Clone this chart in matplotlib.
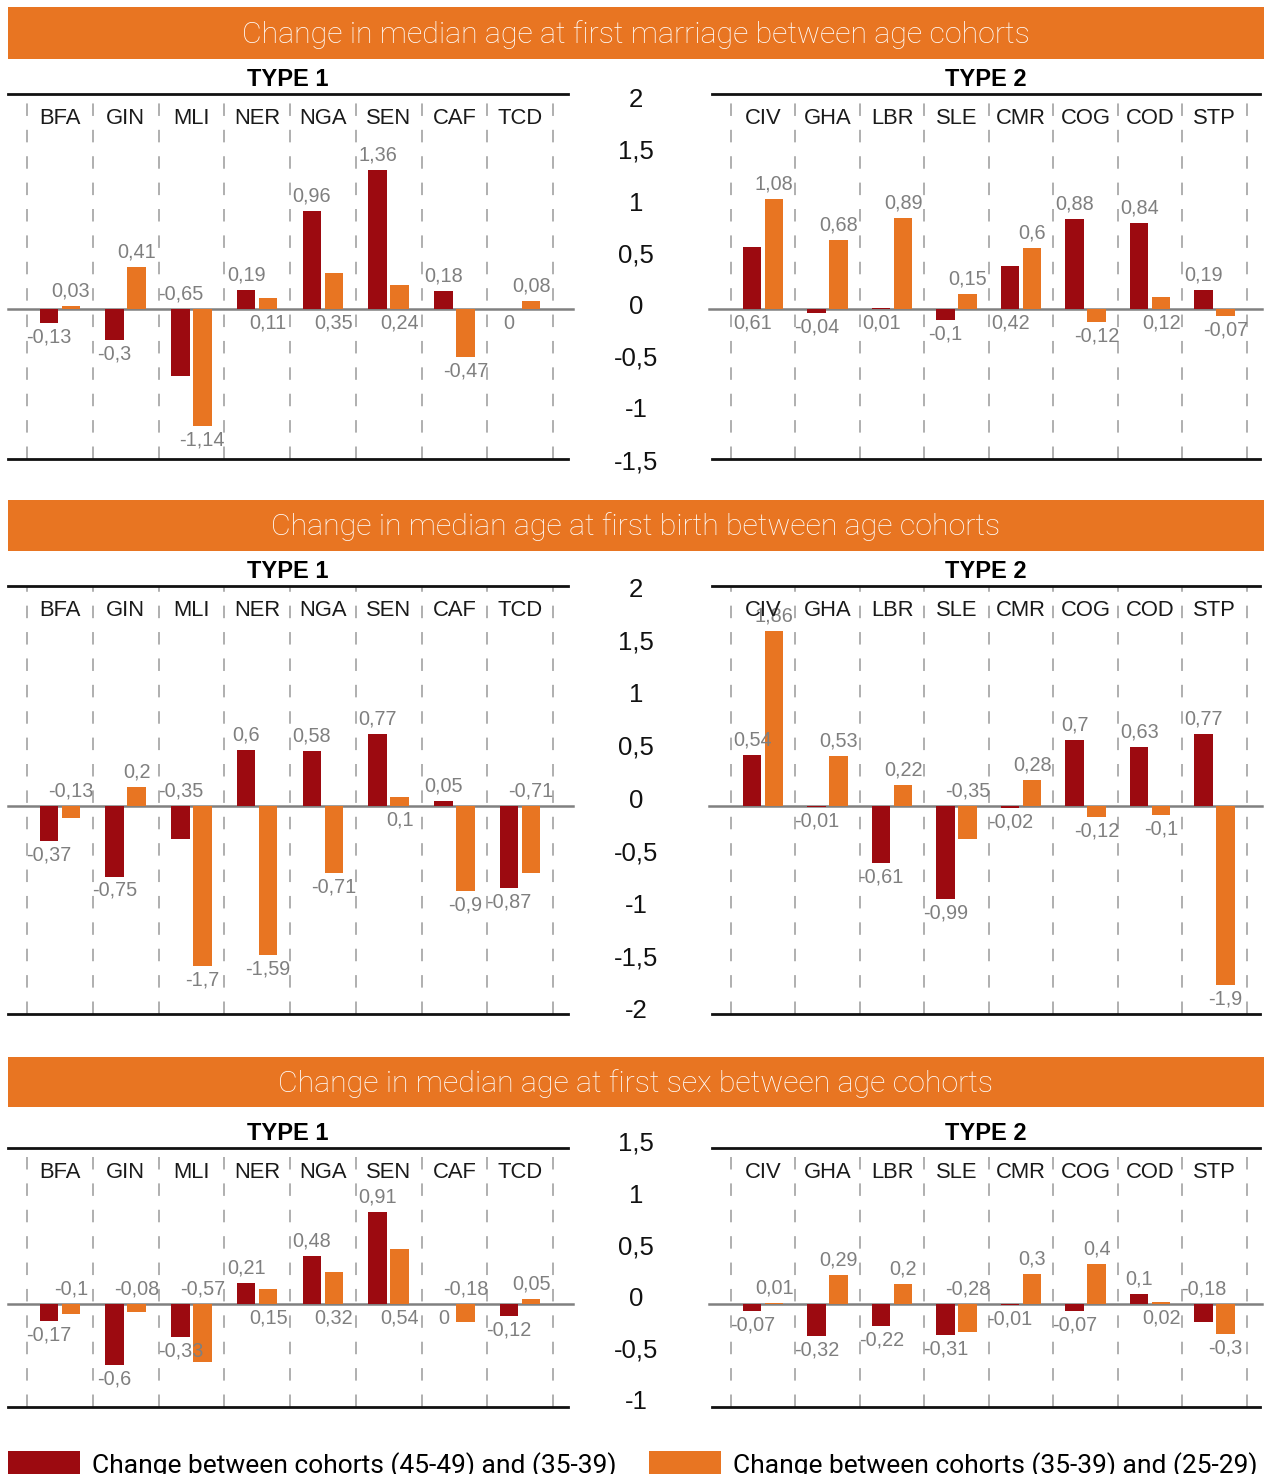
import matplotlib
matplotlib.use("Agg")
import matplotlib.pyplot as plt
from matplotlib.patches import Rectangle
from matplotlib.transforms import blended_transform_factory

plt.rcParams["font.family"] = ["Liberation Sans", "DejaVu Sans"]
plt.rcParams["lines.scale_dashes"] = False

# ---------------- data ----------------
type1_countries = ["BFA", "GIN", "MLI", "NER", "NGA", "SEN", "CAF", "TCD"]
type2_countries = ["CIV", "GHA", "LBR", "SLE", "CMR", "COG", "COD", "STP"]

section_titles = [
    "Change in median age at first marriage between age cohorts",
    "Change in median age at first birth between age cohorts",
    "Change in median age at first sex between age cohorts",
]
legend_labels = [
    "Change between cohorts (45-49) and (35-39)",
    "Change between cohorts (35-39) and (25-29)",
]

# marriage
marriage_t1_old = [-0.13, -0.3, -0.65, 0.19, 0.96, 1.36, 0.18, 0]
marriage_t1_young = [0.03, 0.41, -1.14, 0.11, 0.35, 0.24, -0.47, 0.08]
marriage_t2_old = [0.61, -0.04, 0.01, -0.1, 0.42, 0.88, 0.84, 0.19]
marriage_t2_young = [1.08, 0.68, 0.89, 0.15, 0.6, -0.12, 0.12, -0.07]
# birth
birth_t1_old = [-0.37, -0.75, -0.35, 0.6, 0.58, 0.77, 0.05, -0.87]
birth_t1_young = [-0.13, 0.2, -1.7, -1.59, -0.71, 0.1, -0.9, -0.71]
birth_t2_old = [0.54, -0.01, -0.61, -0.99, -0.02, 0.7, 0.63, 0.77]
birth_t2_young = [1.86, 0.53, 0.22, -0.35, 0.28, -0.12, -0.1, -1.9]
# sex
sex_t1_old = [-0.17, -0.6, -0.33, 0.21, 0.48, 0.91, 0, -0.12]
sex_t1_young = [-0.1, -0.08, -0.57, 0.15, 0.32, 0.54, -0.18, 0.05]
sex_t2_old = [-0.07, -0.32, -0.22, -0.31, -0.01, -0.07, 0.1, -0.18]
sex_t2_young = [0.01, 0.29, 0.2, -0.28, 0.3, 0.4, 0.02, -0.3]

# axis tick values of the middle scale column
marriage_ticks = [2, 1.5, 1, 0.5, 0, -0.5, -1, -1.5]
birth_ticks = [2, 1.5, 1, 0.5, 0, -0.5, -1, -1.5, -2]
sex_ticks = [1.5, 1, 0.5, 0, -0.5, -1]

# ---------------- layout / style ----------------
W, H, DPI = 1267, 1474, 100
DARK = "#9c0a10"
ORANGE = "#e87522"
GREY_TXT = "#7f7f7f"
GRID = "#9a9a9a"

# label side per bar ('a' above zero/bar top, 'b' below zero/bar bottom)
label_sides = {
    ("m", 1): ("bbaaaaab", "aabbbbba"),
    ("m", 2): ("bbbbbaaa", "aaaaabbb"),
    ("b", 1): ("bbaaaaab", "aabbbbba"),
    ("b", 2): ("abbbbaaa", "aaaaabbb"),
    ("s", 1): ("bbbaaabb", "aaabbbaa"),
    ("s", 2): ("bbbbbbaa", "aaaaaabb"),
}

sections = [
    dict(key="m", title=section_titles[0], band=(7, 58.5),
         top=94, bottom=459, zero=309.3, ppu=102.5,
         ticks=marriage_ticks, tick_zero=307.0, tick_ppu=103.4,
         t1=(marriage_t1_old, marriage_t1_young),
         t2=(marriage_t2_old, marriage_t2_young)),
    dict(key="b", title=section_titles[1], band=(500, 551),
         top=586, bottom=1014, zero=806, ppu=94.0,
         ticks=birth_ticks, tick_zero=800.5, tick_ppu=105.25,
         t1=(birth_t1_old, birth_t1_young),
         t2=(birth_t2_old, birth_t2_young)),
    dict(key="s", title=section_titles[2], band=(1057, 1107),
         top=1148, bottom=1406.5, zero=1304, ppu=101.0,
         ticks=sex_ticks, tick_zero=1298.8, tick_ppu=103.2,
         t1=(sex_t1_old, sex_t1_young),
         t2=(sex_t2_old, sex_t2_young)),
]

panels = [
    dict(left=8, right=568, div0=27, unit=65.75, zx=(8, 573), label="TYPE 1",
         countries=type1_countries),
    dict(left=712, right=1260, div0=731, unit=64.5, zx=(709, 1262), label="TYPE 2",
         countries=type2_countries),
]

fig = plt.figure(figsize=(W / DPI, H / DPI), dpi=DPI)


def fmt(v):
    return f"{v:g}".replace(".", ",")


bar_w_px = 18.5
bar_off_px = 11.0

handles = None
for sec in sections:
    # header band
    y0, y1 = sec["band"]
    fig.patches.append(Rectangle((8 / W, 1 - y1 / H), (1264 - 8) / W, (y1 - y0) / H,
                                 transform=fig.transFigure, facecolor=ORANGE,
                                 edgecolor="none", zorder=0))
    fig.text(636 / W, 1 - ((y0 + y1) / 2 + 1.5) / H, sec["title"], color="white",
             fontsize=21.9, fontweight="light", family=["Roboto", "DejaVu Sans"],
             ha="center", va="center")

    top, bottom, zero, ppu = sec["top"], sec["bottom"], sec["zero"], sec["ppu"]
    ylim = (-(bottom - zero) / ppu, (zero - top) / ppu)

    for pi, pan in enumerate(panels):
        ax = fig.add_axes([pan["left"] / W, 1 - bottom / H,
                           (pan["right"] - pan["left"]) / W, (bottom - top) / H])
        c0 = pan["div0"] + pan["unit"] / 2
        ax.set_xlim((pan["left"] - c0) / pan["unit"], (pan["right"] - c0) / pan["unit"])
        ax.set_ylim(*ylim)
        ax.set_facecolor("none")
        for s in ("left", "right"):
            ax.spines[s].set_visible(False)
        for s in ("top", "bottom"):
            ax.spines[s].set_linewidth(2.0)
            ax.spines[s].set_color("#111111")
        ax.set_xticks([])
        ax.set_yticks([])

        # dashed dividers
        for k in range(9):
            ln = ax.axvline(k - 0.5, color=GRID, lw=1.1, zorder=1)
            ln.set_dashes((9.0, 10.0))

        # zero line
        xmin = (pan["zx"][0] - pan["left"]) / (pan["right"] - pan["left"])
        xmax = (pan["zx"][1] - pan["left"]) / (pan["right"] - pan["left"])
        ax.axhline(0, xmin=xmin, xmax=xmax, color="#808080", lw=1.8, zorder=2,
                   clip_on=False)

        old, young = sec["t1"] if pi == 0 else sec["t2"]
        idx = list(range(len(pan["countries"])))
        bw = bar_w_px / pan["unit"]
        off = bar_off_px / pan["unit"]
        b1 = ax.bar([i - off for i in idx], old, width=bw, color=DARK, zorder=3)
        b2 = ax.bar([i + off for i in idx], young, width=bw, color=ORANGE, zorder=3)
        if handles is None:
            handles = (b1, b2)

        sides = label_sides[(sec["key"], pi + 1)]
        for vals, xs_off, side in ((old, -off, sides[0]), (young, off, sides[1])):
            for i, v in enumerate(vals):
                if side[i] == "a":
                    yy, dy = max(v, 0), 15
                else:
                    yy, dy = min(v, 0), -14
                ax.annotate(fmt(v), xy=(i + xs_off, yy), xytext=(0, dy),
                            textcoords="offset pixels", ha="center", va="center",
                            fontsize=14.3, color=GREY_TXT,
                            zorder=4, annotation_clip=False)

        # country labels
        tr = blended_transform_factory(ax.transData, ax.transAxes)
        for i, c in enumerate(pan["countries"]):
            ax.annotate(c, xy=(i, 1), xycoords=tr, xytext=(0, -24),
                        textcoords="offset pixels", ha="center", va="center",
                        fontsize=15.8, color="#1a1a1a", zorder=5)
        # type label
        ax.annotate(pan["label"], xy=(0.5, 1), xycoords="axes fraction",
                    xytext=(0, 14.5), textcoords="offset pixels", ha="center",
                    va="center", fontsize=17, fontweight="bold", color="black")

    # middle scale column
    tz, tp = sec["tick_zero"], sec["tick_ppu"]
    axm = fig.add_axes([600 / W, 1 - bottom / H, 72 / W, (bottom - top) / H])
    axm.set_ylim(-(bottom - tz) / tp, (tz - top) / tp)
    axm.axis("off")
    trm = blended_transform_factory(axm.transAxes, axm.transData)
    for t in sec["ticks"]:
        axm.text(0.5, t, fmt(t), transform=trm, ha="center", va="center",
                 fontsize=18.5, color="#111111")

leg = fig.legend(handles, legend_labels, loc="upper left",
                 bbox_to_anchor=(0 / W, 1 - 1443 / H), ncol=2, frameon=False,
                 handlelength=2.75, handleheight=1.2,
                 handletextpad=0.45, columnspacing=1.2, borderaxespad=0,
                 borderpad=0.3, prop={"family": ["Roboto", "DejaVu Sans"], "size": 19})

fig.savefig("out.png", dpi=DPI)
